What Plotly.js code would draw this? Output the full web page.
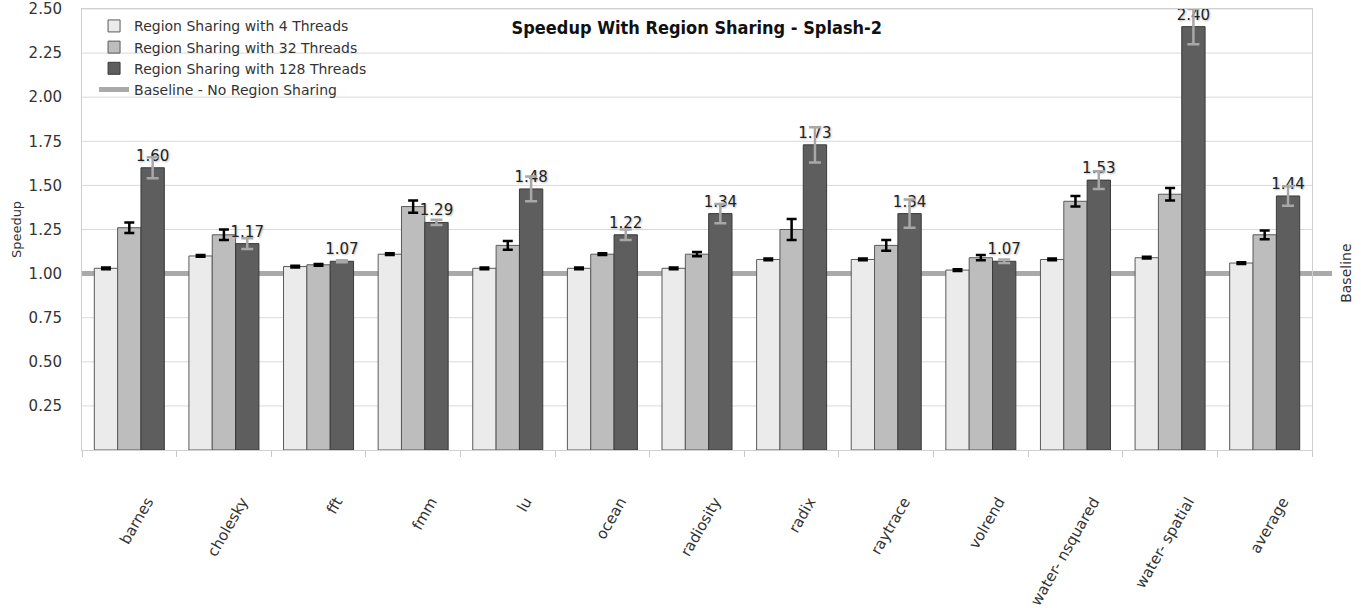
<!DOCTYPE html>
<html>
<head>
<meta charset="utf-8">
<script src="https://cdn.plot.ly/plotly-3.0.1.min.js"></script>
<style>html,body{margin:0;padding:0;background:#fff;}#chart{width:1361px;height:608px;}</style>
</head>
<body>
<div id="chart"></div>
<script>
const categories = ['barnes','cholesky','fft','fmm','lu','ocean','radiosity','radix','raytrace','volrend','water- nsquared','water- spatial','average'];
const threads4 = [1.03, 1.10, 1.04, 1.11, 1.03, 1.03, 1.03, 1.08, 1.08, 1.02, 1.08, 1.09, 1.06];
const err4 = [0.005, 0.005, 0.005, 0.005, 0.005, 0.005, 0.005, 0.005, 0.005, 0.005, 0.005, 0.005, 0.005];
const threads32 = [1.26, 1.22, 1.05, 1.38, 1.16, 1.11, 1.11, 1.25, 1.16, 1.09, 1.41, 1.45, 1.22];
const err32 = [0.03, 0.03, 0.005, 0.035, 0.025, 0.005, 0.012, 0.06, 0.03, 0.015, 0.03, 0.035, 0.025];
const threads128 = [1.60, 1.17, 1.07, 1.29, 1.48, 1.22, 1.34, 1.73, 1.34, 1.07, 1.53, 2.40, 1.44];
const err128 = [0.06, 0.03, 0.005, 0.015, 0.07, 0.03, 0.055, 0.1, 0.08, 0.01, 0.05, 0.1, 0.055];
const baselineValue = 1.0;
const yTicks = [0.25, 0.5, 0.75, 1.0, 1.25, 1.5, 1.75, 2.0, 2.25, 2.5];

const FONT = 'DejaVu Sans, sans-serif';

const traces = [
  {
    type: 'bar', name: 'Region Sharing with 4 Threads', x: categories, y: threads4,
    marker: {color: '#ebebeb', line: {color: '#5a5a5a', width: 1}},
    error_y: {type: 'data', array: err4, visible: true, color: '#000', thickness: 2.5, width: 5}
  },
  {
    type: 'bar', name: 'Region Sharing with 32 Threads', x: categories, y: threads32,
    marker: {color: '#bdbdbd', line: {color: '#5a5a5a', width: 1}},
    error_y: {type: 'data', array: err32, visible: true, color: '#000', thickness: 2.5, width: 5}
  },
  {
    type: 'bar', name: 'Region Sharing with 128 Threads', x: categories, y: threads128,
    marker: {color: '#5e5e5e', line: {color: '#3a3a3a', width: 1}},
    error_y: {type: 'data', array: err128, visible: true, color: '#a8a8a8', thickness: 2.5, width: 6},
    texttemplate: '%{y:.2f}', textposition: 'outside', cliponaxis: false, constraintext: 'none',
    textfont: {family: FONT, size: 15, color: '#222', shadow: '1px 1px 2px #bbb'}
  },
  {
    type: 'scatter', mode: 'lines', name: 'Baseline - No Region Sharing',
    x: [null], y: [null], line: {color: '#aaaaaa', width: 5}
  }
];

const gridShapes = yTicks.map(v => ({
  type: 'line', xref: 'paper', yref: 'y', x0: 0, x1: 1, y0: v, y1: v,
  line: {color: '#d9d9d9', width: 1}, layer: 'below'
}));

const layout = {
  width: 1361, height: 608,
  margin: {l: 82, r: 49, t: 9, b: 158},
  paper_bgcolor: '#fff', plot_bgcolor: '#fff',
  font: {family: FONT, size: 15, color: '#333'},
  barmode: 'group', bargap: 0.26, bargroupgap: 0,
  title: {
    text: '<b>Speedup With Region Sharing - Splash-2</b>',
    font: {family: 'DejaVu Sans Condensed, DejaVu Sans, sans-serif', size: 18, color: '#111'},
    x: 0.512, xanchor: 'center', y: 0.954, yanchor: 'middle'
  },
  showlegend: true,
  legend: {
    x: 0.0098, y: 0.997, xanchor: 'left', yanchor: 'top',
    bgcolor: 'rgba(0,0,0,0)', font: {family: FONT, size: 14, color: '#333'},
    tracegroupgap: 0, traceorder: 'normal'
  },
  xaxis: {
    type: 'category', tickangle: -60, tickson: 'boundaries',
    ticks: 'outside', ticklen: 6, tickcolor: '#c8c8c8',
    showline: true, linecolor: '#d0d0d0', linewidth: 1, mirror: true,
    showgrid: false, tickfont: {family: FONT, size: 15, color: '#333'},
    ticklabelstandoff: 36, ticklabelshift: 18
  },
  yaxis: {
    range: [0, 2.5], tickvals: yTicks, tickformat: '.2f',
    showgrid: false,
    showline: true, linecolor: '#d0d0d0', mirror: true, zeroline: false,
    ticks: '', ticklabelstandoff: 16,
    tickfont: {family: FONT, size: 15, color: '#333'},
    title: {text: 'Speedup', font: {family: FONT, size: 13, color: '#333'}, standoff: 4}
  },
  shapes: gridShapes.concat([
    {type: 'line', xref: 'paper', yref: 'y', x0: 0, x1: 1.0163, y0: baselineValue, y1: baselineValue,
     line: {color: '#aaaaaa', width: 5}, layer: 'below'}
  ]),
  annotations: [
    {text: 'Baseline', xref: 'paper', yref: 'y', x: 1.027, y: baselineValue, textangle: -90,
     showarrow: false, xanchor: 'center', yanchor: 'middle', font: {family: FONT, size: 14, color: '#333'}}
  ]
};

Plotly.newPlot('chart', traces, layout, {displayModeBar: false, responsive: false});
</script>
</body>
</html>
